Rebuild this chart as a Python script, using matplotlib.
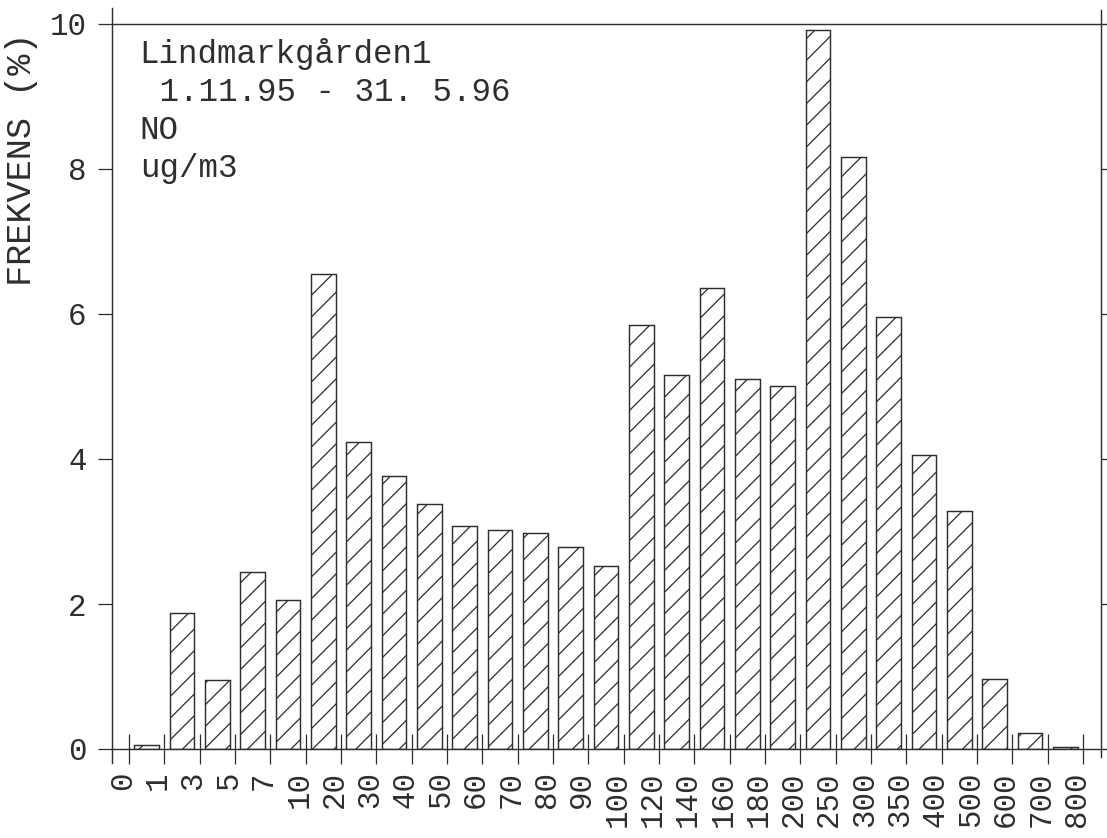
import matplotlib
matplotlib.use("Agg")
import matplotlib.pyplot as plt
import matplotlib.transforms as mtransforms
import numpy as np

# klassgranser (ug/m3) och frekvens (%) per klass
edges = ["0", "1", "3", "5", "7", "10", "20", "30", "40", "50", "60", "70", "80", "90",
         "100", "120", "140", "160", "180", "200", "250", "300", "350", "400", "500",
         "600", "700", "800"]
freq = [0.05, 1.88, 0.95, 2.44, 2.05, 6.55, 4.24, 3.76, 3.38, 3.07, 3.02, 2.98, 2.78, 2.53,
        5.85, 5.16, 6.36, 5.11, 5.01, 9.92, 8.16, 5.96, 4.06, 3.28, 0.97, 0.22, 0.03]
y_ticks = [0, 2, 4, 6, 8, 10]
info_lines = ["Lindmarkgården1", " 1.11.95 - 31. 5.96", "NO", "ug/m3"]

INK = "#2e2e2e"
DPI = 130

plt.rcParams["font.family"] = ["Liberation Mono", "DejaVu Sans Mono"]
plt.rcParams["hatch.linewidth"] = 0.7

fig = plt.figure(figsize=(1107 / DPI, 838 / DPI), dpi=DPI)
ax = fig.add_axes([112 / 1107, 89 / 838, 989 / 1107, 725 / 838])

x = np.arange(len(freq)) + 0.5
ax.bar(x, freq, width=0.7, color="white", edgecolor=INK, linewidth=0.8, hatch="//")

ax.set_xlim(-0.48, 27.51)
ax.set_ylim(0, 10)

for side in ["left", "right", "top", "bottom"]:
    ax.spines[side].set_color(INK)
    ax.spines[side].set_linewidth(0.8)
ax.spines["left"].set_bounds(-0.19, 10.22)
ax.spines["right"].set_bounds(-0.11, 10.19)
ax.spines["bottom"].set_bounds(-0.48, 27.7)
ax.spines["top"].set_bounds(-0.48, 27.7)

ax.set_xticks(np.arange(len(edges)), edges, rotation=90)
ax.set_yticks(y_ticks)
ax.tick_params(axis="x", direction="inout", length=16.5, width=0.7, color=INK,
               pad=4, labelsize=17, labelcolor=INK)
ax.tick_params(axis="y", direction="out", length=8, width=0.7, color=INK,
               pad=6, labelsize=17, labelcolor=INK)

# etiketterna sitter lite till vanster om strecken
shift = mtransforms.ScaledTranslation(-3.5 / 72, 0, fig.dpi_scale_trans)
for lab in ax.get_xticklabels():
    lab.set_transform(lab.get_transform() + shift)

sec = ax.secondary_yaxis("right")
sec.set_yticks(y_ticks[1:-1])
sec.tick_params(length=4, width=0.7, color=INK, labelright=False)
sec.spines["right"].set_visible(False)

y0 = 0.946
for i, line in enumerate(info_lines):
    ax.text(0.028, y0 - i * 0.0525, line, transform=ax.transAxes, fontsize=18,
            va="baseline", ha="left", color=INK)

fig.text(22 / 1107, 1 - 32 / 838, "FREKVENS (%)", rotation=90, va="top", ha="center",
         fontsize=19.5, color=INK)

fig.savefig("out.png", dpi=DPI)
